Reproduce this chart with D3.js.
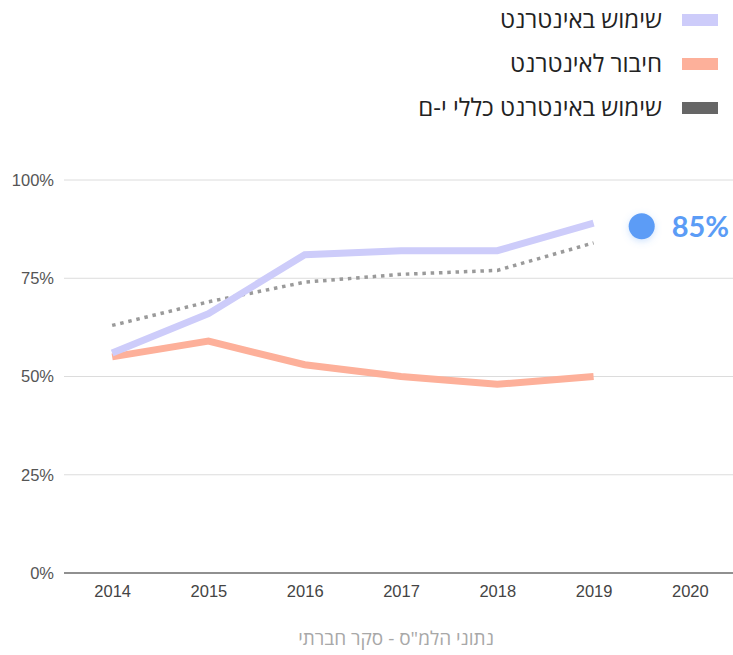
<!DOCTYPE html>
<html lang="he">
<head>
<meta charset="utf-8">
<script src="https://cdn.jsdelivr.net/npm/d3@7"></script>
<style>
  html, body { margin: 0; padding: 0; background: #fff; }
  svg { display: block; font-family: "Open Sans", "Liberation Sans", "DejaVu Sans", sans-serif; }
</style>
</head>
<body>
<svg id="chart" width="733" height="655"></svg>
<script>
// Years shown on the x axis
const years = ["2014", "2015", "2016", "2017", "2018", "2019", "2020"];
// Percent of residents using the internet
const usage = [56, 66, 81, 82, 82, 89];
// Percent of households connected to the internet
const connection = [55, 59, 53, 50, 48, 50];
// Overall internet use, Jerusalem
const usageJerusalem = [63, 69, 74, 76, 77, 84];
// Y axis ticks
const yTicks = [0, 25, 50, 75, 100];
// Legend labels
const legendLabels = ["שימוש באינטרנט", "חיבור לאינטרנט", "שימוש באינטרנט כללי י-ם"];
// Highlighted forecast value
const highlightValue = 85;
const footerText = "נתוני הלמ\"ס - סקר חברתי";

const svg = d3.select("#chart");
const margin = { left: 64, top: 180, bottom: 573 };

const x = d3.scalePoint().domain(years).range([margin.left, 738]).padding(0.5);
const y = d3.scaleLinear().domain([0, 100]).range([margin.bottom, margin.top]);

// Grid lines
svg.append("g").selectAll("line")
  .data(yTicks.filter(d => d > 0))
  .join("line")
  .attr("x1", margin.left).attr("x2", 733)
  .attr("y1", d => y(d)).attr("y2", d => y(d))
  .attr("stroke", "#dcdcdc").attr("stroke-width", 1);

// Baseline
svg.append("line")
  .attr("x1", margin.left).attr("x2", 733)
  .attr("y1", y(0)).attr("y2", y(0))
  .attr("stroke", "#6b6b6b").attr("stroke-width", 1.5);

// Y axis labels
const yAxis = svg.append("g")
  .attr("transform", `translate(${margin.left - 9},0)`)
  .call(d3.axisLeft(y).tickValues(yTicks).tickFormat(d => d + "%").tickSize(0).tickPadding(1));
yAxis.select(".domain").remove();
yAxis.selectAll("text").attr("font-size", 16.5).attr("fill", "#555")
  .attr("font-family", "'Liberation Sans', Arial, sans-serif");

// X axis labels
const xAxis = svg.append("g")
  .attr("transform", `translate(0,${y(0)})`)
  .call(d3.axisBottom(x).tickSize(0).tickPadding(12));
xAxis.select(".domain").remove();
xAxis.selectAll("text").attr("font-size", 16.5).attr("fill", "#444")
  .attr("font-family", "'Liberation Sans', Arial, sans-serif");

const line = d3.line()
  .x((d, i) => x(years[i]))
  .y(d => y(d));

svg.append("path").datum(usageJerusalem)
  .attr("d", line).attr("fill", "none")
  .attr("stroke", "#9a9a9a").attr("stroke-width", 3.5)
  .attr("stroke-dasharray", "3.5,4.8");

svg.append("path").datum(connection)
  .attr("d", line).attr("fill", "none")
  .attr("stroke", "#fdb09a").attr("stroke-width", 7);

svg.append("path").datum(usage)
  .attr("d", line).attr("fill", "none")
  .attr("stroke", "#cdccfa").attr("stroke-width", 7);

// Highlight callout next to the end of the usage line
const defs = svg.append("defs");
const glow = defs.append("filter").attr("id", "glow")
  .attr("x", "-60%").attr("y", "-60%").attr("width", "220%").attr("height", "220%");
glow.append("feDropShadow").attr("dx", 0).attr("dy", 2).attr("stdDeviation", 3.5)
  .attr("flood-color", "#5b9cf6").attr("flood-opacity", 0.3);

const hx = (x("2019") + x("2020")) / 2;
const hy = y(usage[usage.length - 1]) + 3;
svg.append("circle")
  .attr("cx", hx).attr("cy", hy).attr("r", 13)
  .attr("fill", "#5b9cf6").attr("filter", "url(#glow)");
svg.append("text")
  .attr("x", hx + 30).attr("y", hy)
  .attr("dy", "0.36em")
  .attr("font-size", 29).attr("font-weight", 700)
  .attr("fill", "#5b9cf6")
  .attr("font-family", "Lato, 'Open Sans', sans-serif")
  .text(highlightValue + "%");

// Legend
const legendColors = ["#cdccfa", "#fdb09a", "#666666"];
const legend = svg.append("g");
legendLabels.forEach((label, i) => {
  const cy = 20 + i * 44;
  legend.append("rect")
    .attr("x", 682).attr("y", cy - 6).attr("width", 36).attr("height", 12)
    .attr("fill", legendColors[i]);
  legend.append("text")
    .attr("x", 662).attr("y", cy)
    .attr("dy", "0.35em")
    .attr("text-anchor", "end")
    .attr("font-size", 24)
    .attr("fill", "#222")
    .text(label);
});

// Source note
svg.append("text")
  .attr("x", 396).attr("y", 645)
  .attr("text-anchor", "middle")
  .attr("font-size", 19)
  .attr("fill", "#a8a8a8")
  .text(footerText);
</script>
</body>
</html>
